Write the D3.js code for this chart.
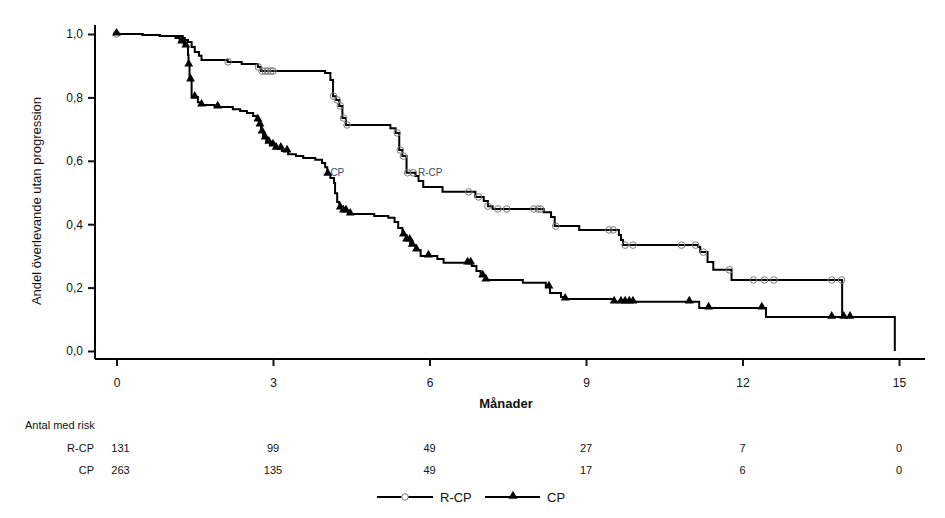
<!DOCTYPE html>
<html>
<head>
<meta charset="utf-8">
<script src="https://cdn.jsdelivr.net/npm/d3@7"></script>
<style>
  html, body { margin: 0; padding: 0; background: #fff; }
  svg text { font-family: "Liberation Sans", Arial, sans-serif; fill: #111; }
</style>
</head>
<body>
<svg id="chart" width="945" height="518"></svg>
<script>
// ── Data: Kaplan-Meier step points (month of step, survival after step) ─────
const rcpTime = [0, 0.5, 0.83, 1.27, 1.31, 1.37, 1.44, 1.50, 1.58, 1.63, 2.13, 2.40, 2.71, 2.77,
  4.00, 4.10, 4.15, 4.21, 4.27, 4.33, 4.40, 5.25, 5.35, 5.42, 5.48, 5.56, 5.73, 5.79, 5.88,
  6.25, 6.88, 7.04, 7.12, 7.21, 8.19, 8.33, 8.40, 8.87, 9.63, 9.67, 9.71,
  11.15, 11.19, 11.33, 11.44, 11.79, 13.91];
const rcpSurv = [1.0, 0.997, 0.994, 0.987, 0.981, 0.975, 0.959, 0.943, 0.931, 0.918, 0.912, 0.905, 0.896, 0.883,
  0.877, 0.855, 0.804, 0.792, 0.773, 0.735, 0.713, 0.703, 0.688, 0.634, 0.615, 0.562, 0.552, 0.536, 0.517,
  0.502, 0.486, 0.473, 0.457, 0.448, 0.438, 0.423, 0.394, 0.382, 0.366, 0.350, 0.334,
  0.328, 0.312, 0.281, 0.256, 0.224, 0.107];

const cpTime = [0, 0.5, 0.83, 1.13, 1.21, 1.29, 1.37, 1.38, 1.40, 1.44, 1.56, 1.62, 1.88,
  2.23, 2.37, 2.50, 2.62, 2.69, 2.73, 2.77, 2.81, 2.87, 2.94, 3.04, 3.17, 3.29, 3.44, 3.58, 3.81, 3.94,
  4.00, 4.04, 4.10, 4.17, 4.19, 4.23, 4.27, 4.33, 4.44, 4.94, 5.21, 5.33, 5.40, 5.48, 5.56, 5.63, 5.73, 5.83,
  6.15, 6.27, 6.81, 6.90, 6.98, 7.08, 7.79, 8.23, 8.31, 8.52, 8.58, 9.52, 11.17, 12.45, 14.92];
const cpSurv = [1.0, 0.997, 0.994, 0.987, 0.975, 0.962, 0.934, 0.902, 0.855, 0.801, 0.785, 0.776, 0.770,
  0.763, 0.757, 0.751, 0.741, 0.729, 0.713, 0.691, 0.672, 0.659, 0.650, 0.640, 0.631, 0.621, 0.615, 0.609, 0.603, 0.593,
  0.580, 0.558, 0.546, 0.530, 0.498, 0.470, 0.451, 0.442, 0.432, 0.426, 0.420, 0.407, 0.388, 0.366, 0.350, 0.334, 0.319, 0.300,
  0.290, 0.278, 0.268, 0.252, 0.237, 0.224, 0.215, 0.202, 0.183, 0.170, 0.164, 0.155, 0.136, 0.107, 0.0];

// censored observations (months)
const rcpCensor = [0, 2.14, 2.72, 2.79, 2.85, 2.90, 2.96, 3.0, 4.16, 4.23, 4.29, 4.35, 4.42,
  5.38, 5.44, 5.50, 5.58, 5.69, 6.75, 6.94, 7.12, 7.31, 7.48, 8.0, 8.08, 8.13, 8.42,
  9.44, 9.52, 9.75, 9.90, 10.83, 11.10, 11.25, 11.75, 12.21, 12.42, 12.60, 13.71, 13.90];
const cpCensor = [0, 1.25, 1.33, 1.385, 1.42, 1.50, 1.63, 1.94, 2.71, 2.75, 2.79, 2.85, 2.92, 3.0, 3.06,
  3.15, 3.27, 4.05, 4.29, 4.35, 4.40, 4.48, 5.50, 5.56, 5.62, 5.67, 5.75, 5.98, 6.73, 6.79, 7.02, 7.08,
  8.29, 8.60, 9.54, 9.67, 9.75, 9.83, 9.90, 10.98, 11.35, 12.37, 13.71, 13.94, 14.06];

// axis ticks and number-at-risk table
const xTicks = [0, 3, 6, 9, 12, 15];
const yTicks = [0, 0.2, 0.4, 0.6, 0.8, 1.0];
const riskGroups = ['R-CP', 'CP'];
const rcpRisk = [131, 99, 49, 27, 7, 0];
const cpRisk  = [263, 135, 49, 17, 6, 0];

// in-plot curve labels (data coordinates)
const curveLabels = [
  { text: 'CP',   t: 4.10, s: 0.552 },
  { text: 'R-CP', t: 5.78, s: 0.552 }
];

// ── Scales ────────────────────────────────────────────────────────────────────
const svg = d3.select('#chart');
const x = d3.scaleLinear().domain([0, 15]).range([116.5, 899]);
const y = d3.scaleLinear().domain([0, 1]).range([351, 34]);
const fmt = d3.format('.1f');

function survAt(times, surv, t) {
  let v = surv[0];
  for (let i = 0; i < times.length; i++) if (times[i] <= t) v = surv[i];
  return v;
}

// ── Axes ──────────────────────────────────────────────────────────────────────
const yAxis = svg.append('g')
  .attr('transform', 'translate(95,0)')
  .call(d3.axisLeft(y).tickValues(yTicks).tickSize(7).tickPadding(5)
    .tickFormat(d => fmt(d).replace('.', ',')));
yAxis.select('.domain').attr('d', 'M0,25V359').attr('stroke-width', 2);

const xAxis = svg.append('g')
  .attr('transform', 'translate(0,359)')
  .call(d3.axisBottom(x).tickValues(xTicks).tickSize(7).tickPadding(12));
xAxis.select('.domain').attr('d', 'M95,0H925').attr('stroke-width', 2);

[yAxis, xAxis].forEach(a => {
  a.selectAll('.tick line').attr('stroke', '#111').attr('stroke-width', 2);
  a.selectAll('.tick text').attr('font-size', 12).attr('fill', '#111')
    .attr('font-family', '"Liberation Sans", Arial, sans-serif');
});

svg.append('text')
  .attr('transform', 'translate(41,201) rotate(-90)')
  .attr('text-anchor', 'middle')
  .attr('font-size', 13)
  .text('Andel överlevande utan progression');

svg.append('text')
  .attr('x', 506).attr('y', 408)
  .attr('text-anchor', 'middle')
  .attr('font-size', 13).attr('font-weight', 'bold')
  .text('Månader');

// ── Curves ────────────────────────────────────────────────────────────────────
const line = d3.line().x(d => x(d[0])).y(d => y(d[1])).curve(d3.curveStepAfter);

function drawCurve(times, surv) {
  const pts = times.map((t, i) => [t, surv[i]]);
  svg.append('path')
    .datum(pts)
    .attr('d', line)
    .attr('fill', 'none')
    .attr('stroke', '#000')
    .attr('stroke-width', 2);
}
drawCurve(rcpTime, rcpSurv);
drawCurve(cpTime, cpSurv);

// censor marks
svg.append('g').selectAll('circle')
  .data(rcpCensor)
  .join('circle')
  .attr('cx', d => x(d))
  .attr('cy', d => y(survAt(rcpTime, rcpSurv, d)))
  .attr('r', 3.3)
  .attr('fill', 'none')
  .attr('stroke', '#7a7a7a')
  .attr('stroke-width', 1);

const tri = d3.symbol().type(d3.symbolTriangle).size(34);
svg.append('g').selectAll('path')
  .data(cpCensor)
  .join('path')
  .attr('d', tri)
  .attr('transform', d => `translate(${x(d)},${y(survAt(cpTime, cpSurv, d)) - 1})`)
  .attr('fill', '#000');

svg.append('g').selectAll('text')
  .data(curveLabels)
  .join('text')
  .attr('x', d => x(d.t))
  .attr('y', d => y(d.s))
  .attr('font-size', 10)
  .style('fill', '#3c4766')
  .text(d => d.text);

// ── Number at risk ────────────────────────────────────────────────────────────
svg.append('text')
  .attr('x', 25).attr('y', 429)
  .attr('font-size', 11)
  .text('Antal med risk');

[rcpRisk, cpRisk].forEach((row, r) => {
  const ty = 452 + r * 22;
  svg.append('text')
    .attr('x', 94).attr('y', ty)
    .attr('text-anchor', 'end')
    .attr('font-size', 11)
    .text(riskGroups[r]);
  svg.append('g').selectAll('text')
    .data(row)
    .join('text')
    .attr('x', (d, i) => x(xTicks[i]) + (i === 0 ? 4 : 0))
    .attr('y', ty)
    .attr('text-anchor', 'middle')
    .attr('font-size', 11)
    .text(d => d);
});

// ── Legend ────────────────────────────────────────────────────────────────────
const legend = svg.append('g').attr('transform', 'translate(0,497)');
legend.append('line').attr('x1', 377).attr('x2', 433).attr('stroke', '#000').attr('stroke-width', 2);
legend.append('circle').attr('cx', 405).attr('r', 3.3)
  .attr('fill', '#fff').attr('stroke', '#7a7a7a');
legend.append('text').attr('x', 440).attr('y', 5).attr('font-size', 13).text('R-CP');

legend.append('line').attr('x1', 485).attr('x2', 540).attr('stroke', '#000').attr('stroke-width', 2);
legend.append('path').attr('d', d3.symbol().type(d3.symbolTriangle).size(36))
  .attr('transform', 'translate(513,-1)').attr('fill', '#000');
legend.append('text').attr('x', 547).attr('y', 5).attr('font-size', 13).text('CP');
</script>
</body>
</html>
